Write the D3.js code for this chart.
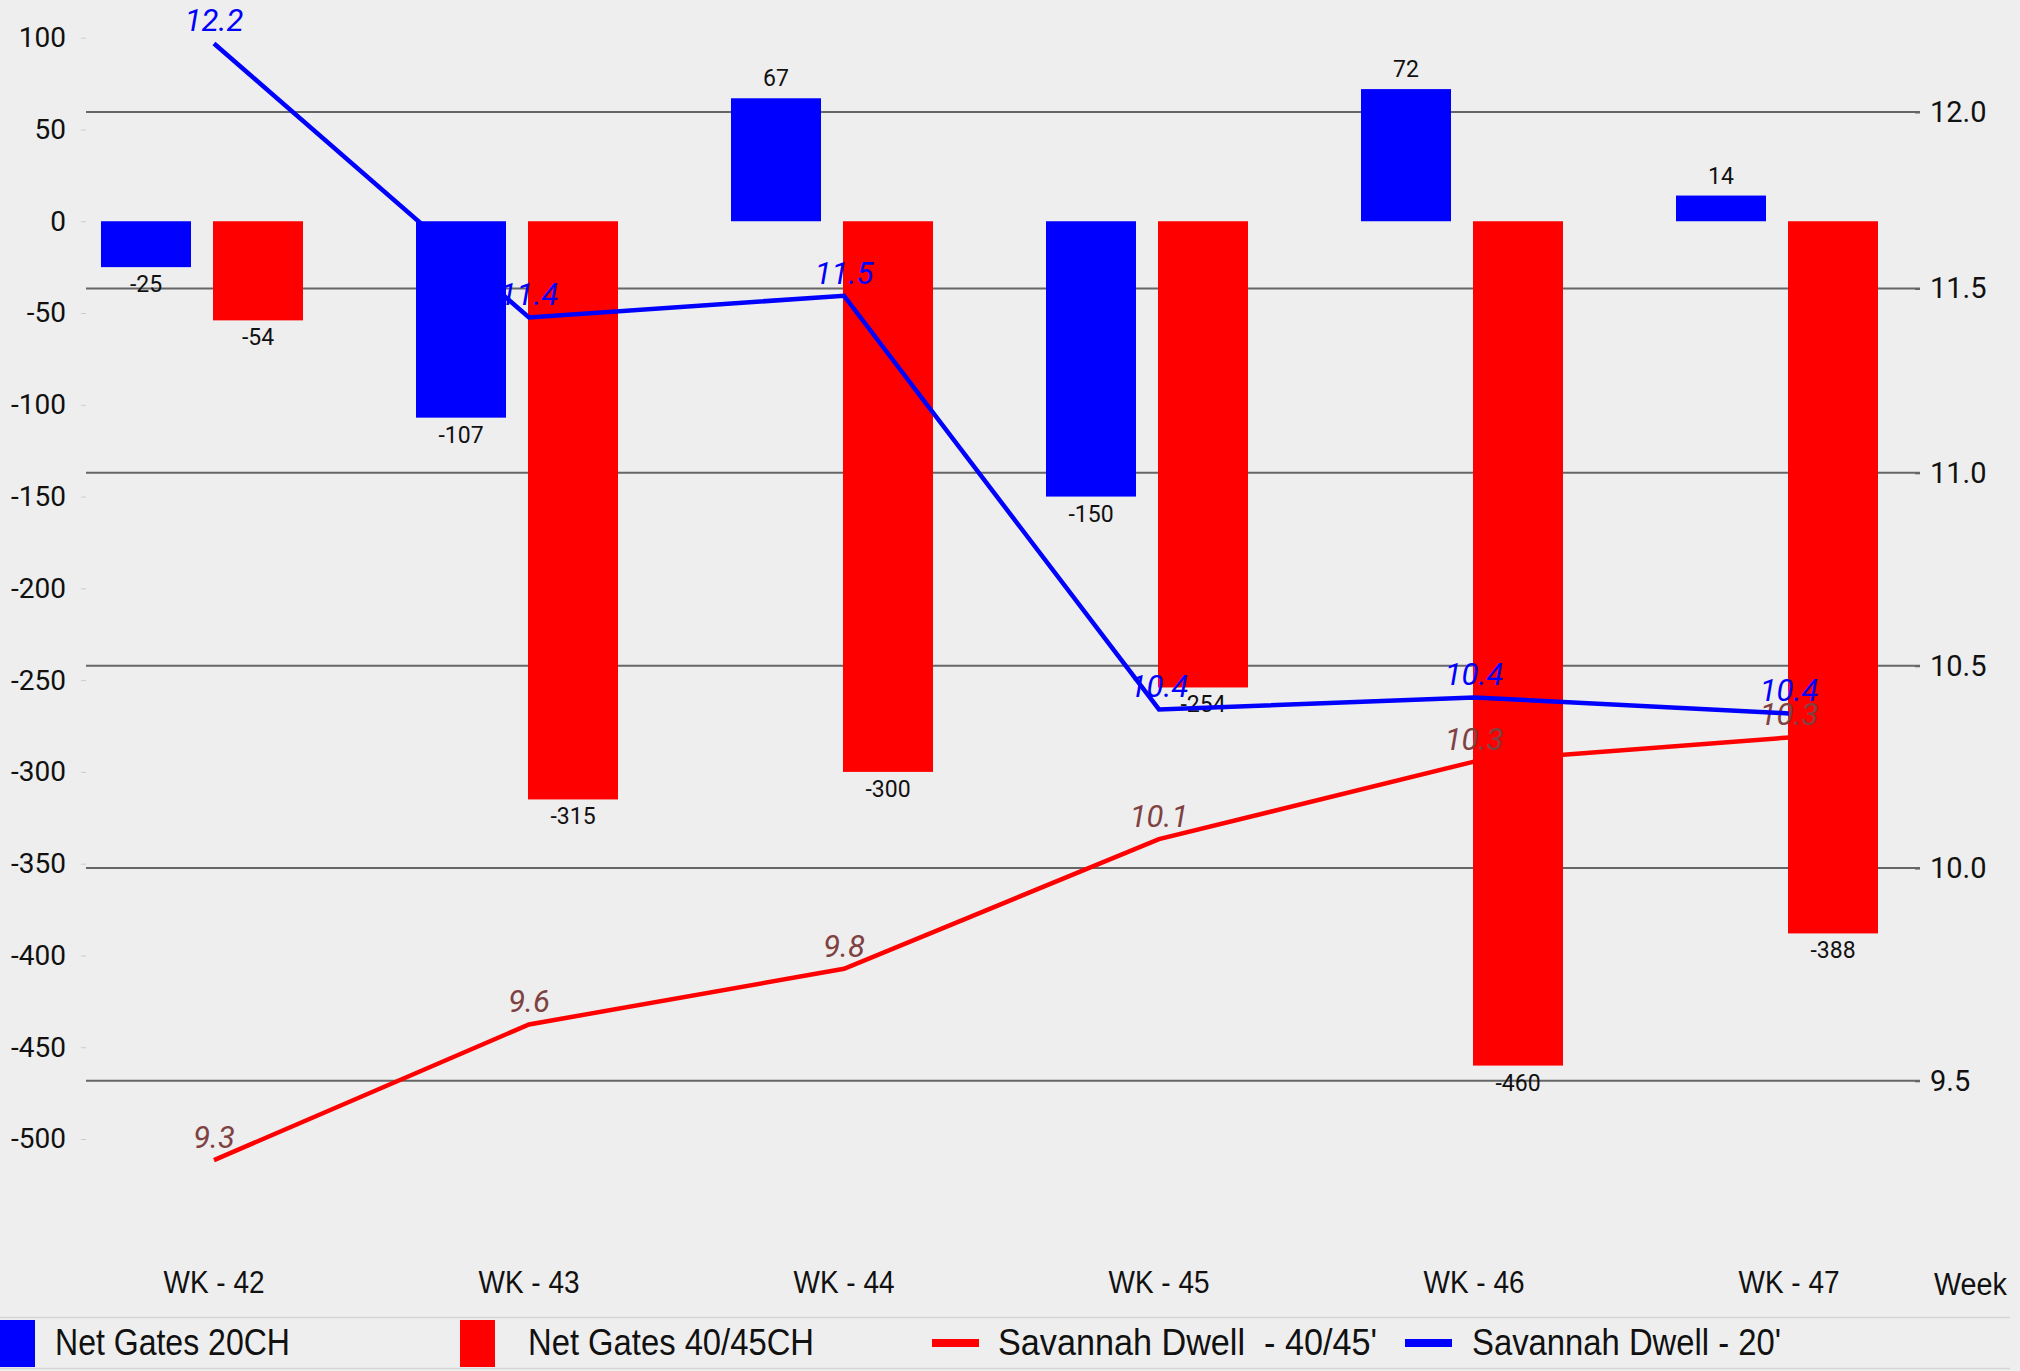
<!DOCTYPE html>
<html>
<head>
<meta charset="utf-8">
<script src="https://cdn.jsdelivr.net/npm/d3@7"></script>
<style>
  body { margin: 0; background: #eeeeee; }
  svg { display: block; }
</style>
</head>
<body>
<script>
// chart data
var weeks = ["WK - 42", "WK - 43", "WK - 44", "WK - 45", "WK - 46", "WK - 47"];
var gates20 = [-25, -107, 67, -150, 72, 14];
var gates40 = [-54, -315, -300, -254, -460, -388];
var dwell40 = [9.32, 9.63, 9.76, 10.07, 10.26, 10.32];
var dwell20 = [12.2, 11.42, 11.48, 10.39, 10.42, 10.38];
var leftTicks = [100, 50, 0, -50, -100, -150, -200, -250, -300, -350, -400, -450, -500];
var rightTicks = [12.0, 11.5, 11.0, 10.5, 10.0, 9.5];
var seriesNames = ["Net Gates 20CH", "Net Gates 40/45CH", "Savannah Dwell  - 40/45'", "Savannah Dwell - 20'"];

var w = 2020, h = 1371;
var sans = "Roboto, 'Noto Sans', sans-serif";
var narrow = "'Liberation Sans', Arial, sans-serif";

var svg = d3.select("body").append("svg")
    .attr("width", w)
    .attr("height", h);

svg.append("rect").attr("width", w).attr("height", h).attr("fill", "#eeeeee");

//Scales
var xScale = d3.scalePoint().domain(weeks).range([214, 1789]);
var xSub = d3.scaleBand().domain(["20", "40"]).range([-113, 89]).paddingInner(0.1964);
var yLeft = d3.scaleLinear().domain([-500, 100]).range([1139, 37.7]);
var yRight = d3.scaleLog().domain([9.5, 12]).range([1080.8, 112]);

//Gridlines from the right axis
svg.append("g")
    .selectAll("line")
    .data(rightTicks)
    .enter().append("line")
    .attr("x1", 86).attr("x2", 1920)
    .attr("y1", function(d) { return yRight(d); })
    .attr("y2", function(d) { return yRight(d); })
    .attr("stroke", "#666").attr("stroke-width", 2);

//Left axis (plain hyphen for negatives)
var leftAxis = d3.axisLeft(yLeft).tickValues(leftTicks).tickSize(5).tickPadding(15)
    .tickFormat(function(d) { return String(d); });
var gl = svg.append("g").attr("transform", "translate(86,0)").call(leftAxis);
gl.select(".domain").remove();
gl.selectAll(".tick line").attr("stroke", "#ccc");
gl.selectAll(".tick text").attr("font-family", sans).attr("font-size", 28).attr("fill", "#111");

//Right axis
var rightAxis = d3.axisRight(yRight).tickValues(rightTicks).tickSize(5).tickPadding(10).tickFormat(d3.format(".1f"));
var gr = svg.append("g").attr("transform", "translate(1915,0)").call(rightAxis);
gr.select(".domain").remove();
gr.selectAll(".tick line").attr("stroke", "#666").attr("stroke-width", 2);
gr.selectAll(".tick text").attr("font-family", sans).attr("font-size", 29).attr("fill", "#111");

//Bars
function drawBars(values, key, color) {
    svg.append("g").selectAll("rect")
        .data(values)
        .enter().append("rect")
        .attr("x", function(d, i) { return xScale(weeks[i]) + xSub(key); })
        .attr("width", xSub.bandwidth())
        .attr("y", function(d) { return yLeft(Math.max(0, d)); })
        .attr("height", function(d) { return Math.abs(yLeft(d) - yLeft(0)); })
        .attr("fill", color);
    svg.append("g").selectAll("text")
        .data(values)
        .enter().append("text")
        .attr("x", function(d, i) { return xScale(weeks[i]) + xSub(key) + xSub.bandwidth() / 2; })
        .attr("y", function(d) { return d >= 0 ? yLeft(d) - 12 : yLeft(d) + 25; })
        .attr("text-anchor", "middle")
        .attr("font-family", sans)
        .attr("font-size", 23)
        .attr("fill", "#111")
        .text(function(d) { return d; });
}
drawBars(gates20, "20", "#0000ff");
drawBars(gates40, "40", "#ff0000");

//Lines
var line = d3.line()
    .x(function(d, i) { return xScale(weeks[i]); })
    .y(function(d) { return yRight(d); });

function drawLine(values, color, labelColor) {
    svg.append("path")
        .datum(values)
        .attr("d", line)
        .attr("fill", "none")
        .attr("stroke", color)
        .attr("stroke-width", 4.5);
    svg.append("g").selectAll("text")
        .data(values)
        .enter().append("text")
        .attr("x", function(d, i) { return xScale(weeks[i]); })
        .attr("y", function(d) { return yRight(d) - 12; })
        .attr("text-anchor", "middle")
        .attr("font-family", sans)
        .attr("font-style", "italic")
        .attr("font-size", 31)
        .attr("fill", labelColor)
        .text(function(d) { return d3.format(".1f")(d); });
}
drawLine(dwell40, "#ff0000", "#7f4242");
drawLine(dwell20, "#0000ff", "#0000ff");

//Category labels (condensed look)
svg.append("g").selectAll("text")
    .data(weeks)
    .enter().append("text")
    .attr("x", function(d) { return xScale(d); })
    .attr("y", 1293)
    .attr("text-anchor", "middle")
    .attr("font-family", narrow)
    .attr("font-size", 31)
    .attr("textLength", 101)
    .attr("lengthAdjust", "spacingAndGlyphs")
    .attr("fill", "#111")
    .text(function(d) { return d; });

svg.append("text")
    .attr("x", 1934).attr("y", 1295)
    .attr("font-family", narrow)
    .attr("font-size", 31)
    .attr("textLength", 73)
    .attr("lengthAdjust", "spacingAndGlyphs")
    .attr("fill", "#111")
    .text("Week");

//Legend
var legend = svg.append("g");
legend.append("line").attr("x1", 0).attr("x2", 2010).attr("y1", 1317.5).attr("y2", 1317.5).attr("stroke", "#d6d6d6").attr("stroke-width", 1.5);
legend.append("line").attr("x1", 0).attr("x2", 2010).attr("y1", 1368.5).attr("y2", 1368.5).attr("stroke", "#d6d6d6").attr("stroke-width", 1.5);

var legendLayout = [
    { color: "#0000ff", type: "rect", x: 0, tx: 55, tw: 235 },
    { color: "#ff0000", type: "rect", x: 460, tx: 528, tw: 286 },
    { color: "#ff0000", type: "line", x: 932, tx: 998, tw: 379 },
    { color: "#0000ff", type: "line", x: 1405, tx: 1472, tw: 309 }
];
legendLayout.forEach(function(d, i) {
    if (d.type === "rect") {
        legend.append("rect").attr("x", d.x).attr("y", 1320).attr("width", 35).attr("height", 47).attr("fill", d.color);
    } else {
        legend.append("rect").attr("x", d.x).attr("y", 1339).attr("width", 47).attr("height", 8).attr("fill", d.color);
    }
    legend.append("text")
        .attr("x", d.tx).attr("y", 1355)
        .attr("font-family", narrow)
        .attr("font-size", 37)
        .attr("textLength", d.tw)
        .attr("lengthAdjust", "spacingAndGlyphs")
        .attr("fill", "#111")
        .style("white-space", "pre")
        .text(seriesNames[i]);
});
</script>
</body>
</html>
